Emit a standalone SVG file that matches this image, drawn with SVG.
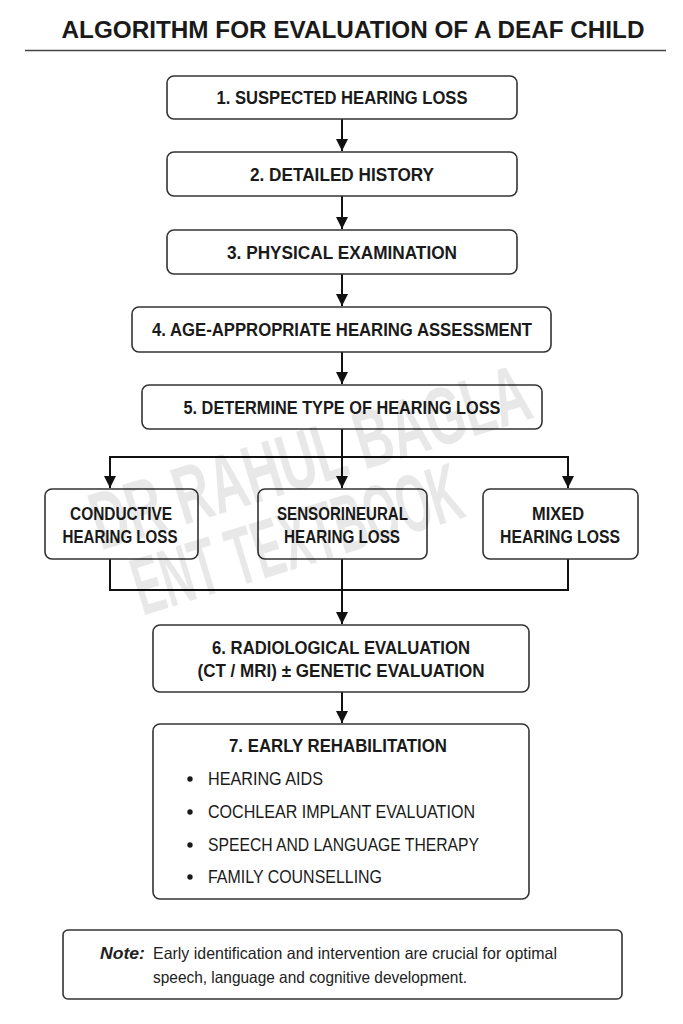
<svg xmlns="http://www.w3.org/2000/svg" width="683" height="1024" viewBox="0 0 683 1024">
<defs>
<style>
.box{fill:#fff;stroke:#333;stroke-width:1.6}
.t{font-family:"Liberation Sans",Arial,sans-serif;font-weight:bold;font-size:17.5px;fill:#1a1a1a;text-anchor:middle}
.r{font-family:"Liberation Sans",Arial,sans-serif;font-size:17.5px;fill:#1a1a1a}
.n{font-family:"Liberation Sans",Arial,sans-serif;font-size:16.5px;fill:#222}
.c{fill:none;stroke:#111;stroke-width:2}
.wm{font-family:"Liberation Sans",Arial,sans-serif;font-weight:bold;font-size:82px;fill:#000;opacity:0.085;text-anchor:middle}
</style>
<marker id="ah" viewBox="0 0 10 10" refX="10" refY="5" markerWidth="6.5" markerHeight="6" orient="auto" markerUnits="strokeWidth">
<path d="M0,0 L10,5 L0,10 Z" fill="#111"/>
</marker>
</defs>
<rect width="683" height="1024" fill="#fff"/>
<g id="title">
<text x="353" y="38" class="t" style="font-size:24.5px" textLength="583" lengthAdjust="spacingAndGlyphs">ALGORITHM FOR EVALUATION OF A DEAF CHILD</text>
<line x1="25" y1="50.5" x2="666" y2="50.5" stroke="#444" stroke-width="1.5"/>
</g>
<g id="connectors">
<line class="c" x1="342" y1="119" x2="342" y2="151" marker-end="url(#ah)"/>
<line class="c" x1="342" y1="196" x2="342" y2="229" marker-end="url(#ah)"/>
<line class="c" x1="342" y1="274" x2="342" y2="306" marker-end="url(#ah)"/>
<line class="c" x1="342" y1="352" x2="342" y2="384" marker-end="url(#ah)"/>
<line class="c" x1="342" y1="429" x2="342" y2="488" marker-end="url(#ah)"/>
<path class="c" d="M110,488 V457 H568 V488" marker-end="url(#ah)"/>
<path class="c" d="M110,457 V488" marker-end="url(#ah)"/>
<path class="c" d="M110,559 V590 H568 V559"/>
<line class="c" x1="342" y1="559" x2="342" y2="624" marker-end="url(#ah)"/>
<line class="c" x1="342" y1="692" x2="342" y2="723" marker-end="url(#ah)"/>
</g>
<g id="n1"><rect class="box" x="167" y="76" width="350" height="43" rx="7"/><text class="t" x="342" y="104" textLength="251" lengthAdjust="spacingAndGlyphs">1. SUSPECTED HEARING LOSS</text></g>
<g id="n2"><rect class="box" x="167" y="152" width="350" height="44" rx="7"/><text class="t" x="342" y="181" textLength="184" lengthAdjust="spacingAndGlyphs">2. DETAILED HISTORY</text></g>
<g id="n3"><rect class="box" x="167" y="230" width="350" height="44" rx="7"/><text class="t" x="342" y="259" textLength="230" lengthAdjust="spacingAndGlyphs">3. PHYSICAL EXAMINATION</text></g>
<g id="n4"><rect class="box" x="132" y="307" width="419" height="45" rx="7"/><text class="t" x="342" y="336" textLength="380" lengthAdjust="spacingAndGlyphs">4. AGE-APPROPRIATE HEARING ASSESSMENT</text></g>
<g id="n5"><rect class="box" x="142" y="385" width="400" height="44" rx="7"/><text class="t" x="342" y="414" textLength="317" lengthAdjust="spacingAndGlyphs">5. DETERMINE TYPE OF HEARING LOSS</text></g>
<g id="conductive"><rect class="box" x="45" y="489" width="153" height="70" rx="7"/><text class="t" x="121" y="520" textLength="102" lengthAdjust="spacingAndGlyphs">CONDUCTIVE</text><text class="t" x="120" y="543" textLength="115" lengthAdjust="spacingAndGlyphs">HEARING LOSS</text></g>
<g id="sensorineural"><rect class="box" x="258" y="489" width="169" height="70" rx="7"/><text class="t" x="342.5" y="520" textLength="131" lengthAdjust="spacingAndGlyphs">SENSORINEURAL</text><text class="t" x="342" y="543" textLength="116" lengthAdjust="spacingAndGlyphs">HEARING LOSS</text></g>
<g id="mixed"><rect class="box" x="483" y="489" width="155" height="70" rx="7"/><text class="t" x="558" y="520" textLength="52" lengthAdjust="spacingAndGlyphs">MIXED</text><text class="t" x="560" y="543" textLength="120" lengthAdjust="spacingAndGlyphs">HEARING LOSS</text></g>
<g id="n6"><rect class="box" x="153" y="625" width="376" height="67" rx="7"/><text class="t" x="341" y="654" textLength="258" lengthAdjust="spacingAndGlyphs">6. RADIOLOGICAL EVALUATION</text><text class="t" x="341" y="677" textLength="287" lengthAdjust="spacingAndGlyphs">(CT / MRI) ± GENETIC EVALUATION</text></g>
<g id="n7"><rect class="box" x="153" y="724" width="376" height="175" rx="7"/>
<text class="t" x="338" y="752" textLength="218" lengthAdjust="spacingAndGlyphs">7. EARLY REHABILITATION</text>
<circle cx="190" cy="779" r="2.7" fill="#1a1a1a"/><text class="r" x="208" y="785" textLength="115" lengthAdjust="spacingAndGlyphs">HEARING AIDS</text>
<circle cx="190" cy="812" r="2.7" fill="#1a1a1a"/><text class="r" x="208" y="818" textLength="267" lengthAdjust="spacingAndGlyphs">COCHLEAR IMPLANT EVALUATION</text>
<circle cx="190" cy="845" r="2.7" fill="#1a1a1a"/><text class="r" x="208" y="851" textLength="271" lengthAdjust="spacingAndGlyphs">SPEECH AND LANGUAGE THERAPY</text>
<circle cx="190" cy="877" r="2.7" fill="#1a1a1a"/><text class="r" x="208" y="883" textLength="174" lengthAdjust="spacingAndGlyphs">FAMILY COUNSELLING</text>
</g>
<g id="note"><rect class="box" x="63" y="930" width="559" height="69" rx="5"/>
<text class="n" x="100" y="959" font-weight="bold" font-style="italic" style="font-size:17px" textLength="45" lengthAdjust="spacingAndGlyphs">Note:</text>
<text class="n" x="153" y="959" textLength="404" lengthAdjust="spacingAndGlyphs">Early identification and intervention are crucial for optimal</text>
<text class="n" x="153" y="983" textLength="314" lengthAdjust="spacingAndGlyphs">speech, language and cognitive development.</text>
</g>
<g id="watermark">
<text class="wm" transform="translate(318,484) rotate(-17)" textLength="455" lengthAdjust="spacingAndGlyphs">DR RAHUL BAGLA</text>
<text class="wm" transform="translate(305,566) rotate(-17)" textLength="340" lengthAdjust="spacingAndGlyphs">ENT TEXTBOOK</text>
</g>
</svg>
